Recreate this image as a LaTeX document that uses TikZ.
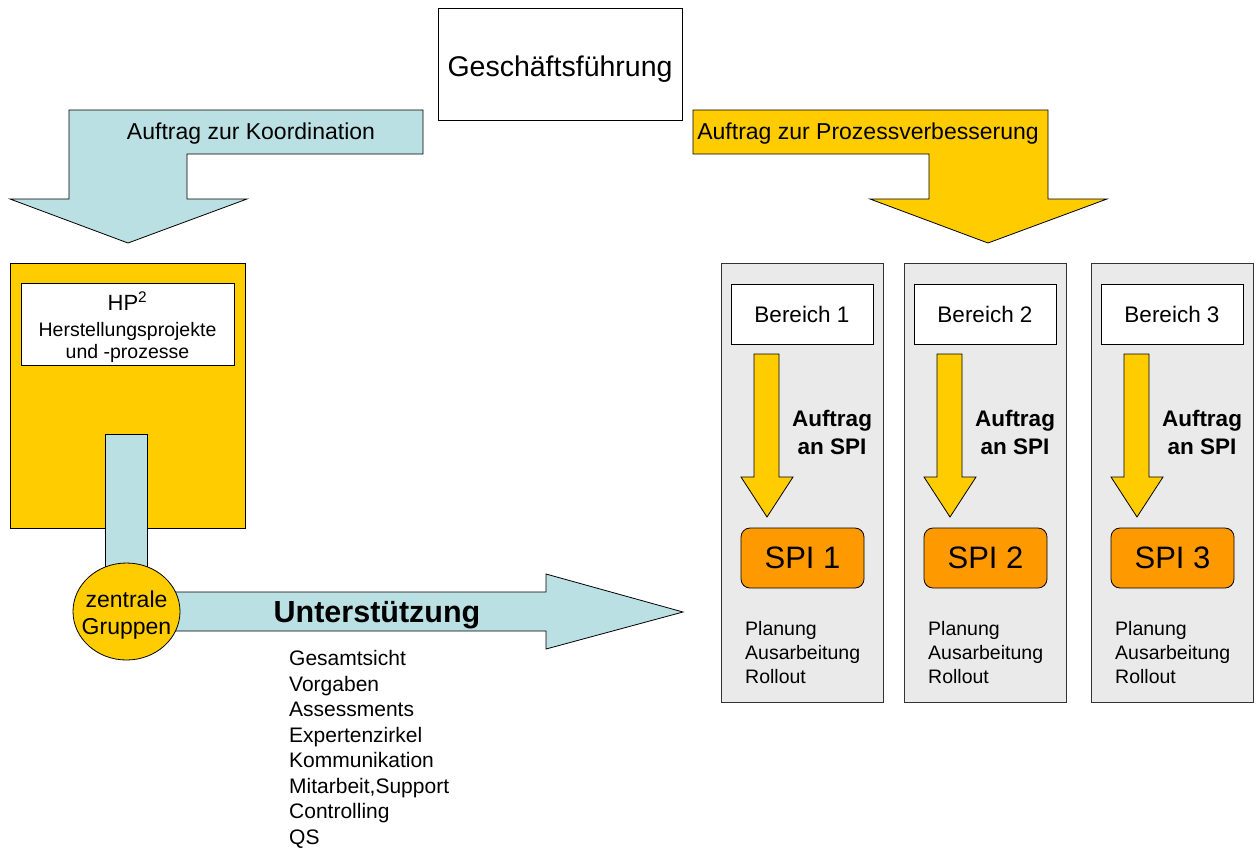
\documentclass[tikz,border=0pt]{standalone}
\usepackage{fontspec}
\setmainfont{Liberation Sans}
\usetikzlibrary{shapes.geometric}
\definecolor{paleblue}{HTML}{BBE0E3}
\definecolor{gold}{HTML}{FFCC00}
\definecolor{spiorange}{HTML}{FF9900}
\definecolor{colgray}{HTML}{EAEAEA}
\newcommand{\fsz}[2]{\fontsize{#1}{#2}\selectfont}

\tikzset{
  outline/.style={draw=black, line width=0.8pt},
  plainbox/.style={outline, fill=white, inner sep=0pt},
  bluearrow/.style={outline, fill=paleblue},
  goldarrow/.style={outline, fill=gold},
  column/.style={draw=black!80, line width=0.8pt, fill=colgray, inner sep=0pt},
  spibox/.style={outline, fill=spiorange, rounded corners=9pt, inner sep=0pt,
    minimum width=123pt, minimum height=60pt, font=\fsz{31}{36}},
  label/.style={inner sep=0pt},
  capline/.style={label, text depth=0pt},
}

\begin{document}
\begin{tikzpicture}[x=1pt, y=-1pt]
\useasboundingbox (0,0) rectangle (1258,847);

% management box
\node[plainbox, minimum width=244pt, minimum height=112pt] (gf) at (560,64) {};
\node[capline, font=\fsz{28.5}{32}] (gftext) at (560,66.5) {Geschäftsführung};

% block arrow: coordination order
\draw[bluearrow] (423,110) -- (69,110) -- (69,199) -- (10,199) -- (128,243)
  -- (247,199) -- (187,199) -- (187,154) -- (423,154) -- cycle;
\node[capline, font=\fsz{23}{27}] (koord) at (251,131.5) {Auftrag zur Koordination};

% block arrow: process improvement order
\draw[goldarrow] (693,110) -- (1048,110) -- (1048,199) -- (1107,199) -- (988,243)
  -- (870,199) -- (929,199) -- (929,154) -- (693,154) -- cycle;
\node[capline, font=\fsz{23}{27}] (proz) at (868,131.5) {Auftrag zur Prozessverbesserung};

% production projects block
\node[outline, fill=gold, inner sep=0pt, minimum width=235pt, minimum height=265pt]
  (hp) at (127.5,395.5) {};
\node[plainbox, minimum width=213pt, minimum height=82pt] (hpbox) at (127.5,324) {};
\node[label, font=\fsz{22}{26}] (hptitle) at (127.5,301) {HP\textsuperscript{2}};
\node[label, font=\fsz{19.5}{22.5}, align=center] (hptext) at (127.5,342.5)
  {Herstellungsprojekte\\und -prozesse};

% link from the block down to the central groups
\draw[bluearrow] (105,434) rectangle (147,575);

% support arrow
\draw[bluearrow] (150,592) -- (546,592) -- (546,574) -- (683,612) -- (546,649)
  -- (546,631) -- (150,631) -- cycle;
\node[capline, font=\bfseries\fsz{30.5}{34}] (unterst) at (377,612) {Unterstützung};

% central groups
\node[ellipse, outline, fill=gold, inner sep=0pt, minimum width=107pt,
  minimum height=97pt] (zg) at (126.5,611.5) {};
\node[label, align=center, font=\fsz{23}{27}] (zgtext) at (126.5,615)
  {zentrale\\Gruppen};

% support topics
\foreach \t [count=\k] in {Gesamtsicht, Vorgaben, Assessments, Expertenzirkel,
    Kommunikation, {Mitarbeit,Support}, Controlling, QS}
  \node[label, anchor=base west, font=\fsz{21}{25}] (topic\k) at (289,665.5+25.5*\k-25.5) {\t};

% the three areas
\foreach \i/\cx in {1/721, 2/904, 3/1091} {
  \node[column, minimum width=162.5pt, minimum height=439pt] (col\i) at (\cx+81.25,482.5) {};
  \node[plainbox, minimum width=142pt, minimum height=60pt, font=\fsz{22.5}{26}]
    (ber\i) at (\cx+81,314) {Bereich \i};
  \draw[goldarrow] (\cx+33,354) -- (\cx+58,354) -- (\cx+58,477) -- (\cx+72,477)
    -- (\cx+46,517) -- (\cx+20,477) -- (\cx+33,477) -- cycle;
  \node[label, font=\bfseries\fsz{22.5}{28}, align=center] (auf\i) at (\cx+111,432)
    {Auftrag\\an SPI};
  \node[spibox] (spi\i) at (\cx+81.5,558) {SPI \i};
  \foreach \t [count=\k] in {Planung, Ausarbeitung, Rollout}
    \node[label, anchor=base west, font=\fsz{19.5}{24}] (task\i\k) at (\cx+24,635+24*\k-24) {\t};
}
\end{tikzpicture}
\end{document}
